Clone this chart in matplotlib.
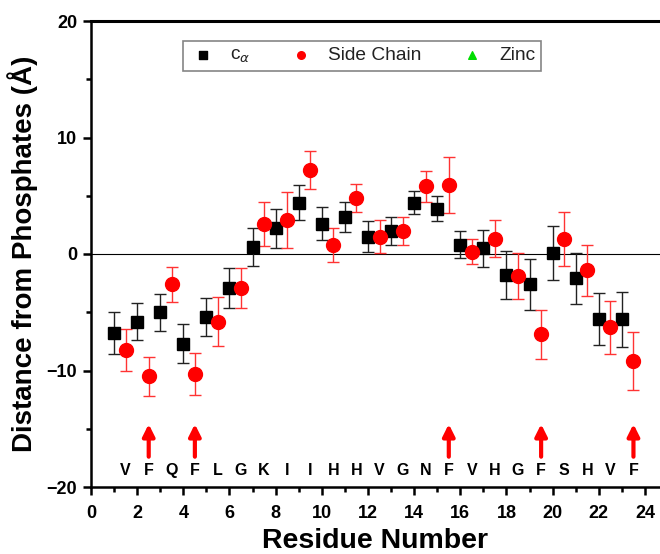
import matplotlib
matplotlib.use("Agg")
import matplotlib.pyplot as plt
from matplotlib.ticker import MultipleLocator
import numpy as np

# residue index for c-alpha (integer) and side chain (half-step) points
ca_x = [1, 2, 3, 4, 5, 6, 7, 8, 9, 10, 11, 12, 13, 14, 15, 16, 17, 18, 19, 20, 21, 22, 23]
ca_y = [-6.8, -5.8, -5.0, -7.7, -5.4, -2.9, 0.6, 2.2, 4.4, 2.6, 3.2, 1.5, 2.0, 4.4, 3.9,
        0.8, 0.5, -1.8, -2.6, 0.1, -2.1, -5.6, -5.6]
ca_err = [1.8, 1.6, 1.6, 1.65, 1.65, 1.7, 1.6, 1.7, 1.5, 1.4, 1.3, 1.3, 1.2, 1.0, 1.1,
          1.15, 1.6, 2.1, 2.2, 2.3, 2.2, 2.25, 2.35]

sc_x = [1.5, 2.5, 3.5, 4.5, 5.5, 6.5, 7.5, 8.5, 9.5, 10.5, 11.5, 12.5, 13.5, 14.5, 15.5,
        16.5, 17.5, 18.5, 19.5, 20.5, 21.5, 22.5, 23.5]
sc_y = [-8.2, -10.5, -2.6, -10.3, -5.8, -2.9, 2.6, 2.9, 7.2, 0.8, 4.8, 1.5, 2.0, 5.8, 5.9,
        0.2, 1.3, -1.9, -6.9, 1.3, -1.4, -6.3, -9.2]
sc_err = [1.8, 1.65, 1.5, 1.8, 2.1, 1.7, 1.9, 2.4, 1.6, 1.45, 1.2, 1.4, 1.2, 1.3, 2.4,
          1.1, 1.6, 2.0, 2.1, 2.3, 2.2, 2.3, 2.5]

sequence = ["V", "F", "Q", "F", "L", "G", "K", "I", "I", "H", "H", "V", "G", "N", "F",
            "V", "H", "G", "F", "S", "H", "V", "F"]
arrow_x = [2.5, 4.5, 15.5, 19.5, 23.5]

plt.rcParams['font.family'] = ['Liberation Sans', 'DejaVu Sans']

fig = plt.figure(figsize=(6.6, 5.54), dpi=100)
ax = fig.add_axes([91 / 660, 1 - 487 / 554, 1 - 91 / 660, (487 - 21) / 554])

ax.axhline(0, color="black", lw=0.8, zorder=1)

ax.errorbar(ca_x, ca_y, yerr=ca_err, fmt="s", color="black", ecolor="#222222",
            ms=9, elinewidth=1.0, capsize=4, capthick=1.0, zorder=3)
ax.errorbar(sc_x, sc_y, yerr=sc_err, fmt="o", color="#ff0000", ecolor="#ff3333",
            ms=10, elinewidth=1.0, capsize=4, capthick=1.0, zorder=3)

for x, s in zip(sc_x, sequence):
    ax.text(x, -18.6, s, ha="center", va="center", fontsize=11.5, fontweight="bold")

for x in arrow_x:
    ax.annotate("", xy=(x, -14.6), xytext=(x, -17.4),
                arrowprops=dict(arrowstyle="-|>,head_width=0.35,head_length=0.7",
                                color="red", lw=3.0, shrinkA=0, shrinkB=0))

# legend handles (Zinc has no points in this panel)
h1 = ax.scatter([], [], marker="s", color="black", s=30)
h2 = ax.scatter([], [], marker="o", color="red", s=30)
h3 = ax.scatter([], [], marker="^", color="#00dd00", s=30)
leg = ax.legend([h1, h2, h3], [r"c$_{\alpha}$", "Side Chain", "Zinc"], ncol=3,
                loc="upper left", bbox_to_anchor=((183 - 91) / 569, 1 - 20 / 466),
                borderaxespad=0, fontsize=13.8, frameon=True, fancybox=False,
                borderpad=0.3, handletextpad=0.65, columnspacing=1.9,
                handlelength=1.5)
leg.get_frame().set_edgecolor("#666666")
leg.get_frame().set_linewidth(1.2)
for t in leg.get_texts():
    t.set_color("#222222")

ax.set_xlim(0, 24.65)
ax.set_ylim(-20, 20)
ax.xaxis.set_major_locator(MultipleLocator(2))
ax.xaxis.set_minor_locator(MultipleLocator(1))
ax.yaxis.set_major_locator(MultipleLocator(10))
ax.yaxis.set_minor_locator(MultipleLocator(5))

ax.spines["right"].set_visible(False)
ax.spines["top"].set_linewidth(2.2)
ax.spines["left"].set_linewidth(1.8)
ax.spines["bottom"].set_linewidth(1.8)
ax.tick_params(which="major", direction="out", length=6, width=1.8, labelsize=13, pad=4)
ax.tick_params(which="minor", direction="out", length=3.5, width=1.8)
ax.tick_params(axis="x", which="major", pad=7)
ax.tick_params(axis="y", which="both", right=False)
for lab in ax.get_xticklabels() + ax.get_yticklabels():
    lab.set_fontweight("bold")

ax.set_xlabel("Residue Number", fontsize=20.5, fontweight="bold", labelpad=4)
ax.set_ylabel("Distance from Phosphates (Å)", fontsize=20, fontweight="bold")
ax.yaxis.set_label_coords(-53 / 569, 0.5)

fig.savefig("out.png", dpi=100)
